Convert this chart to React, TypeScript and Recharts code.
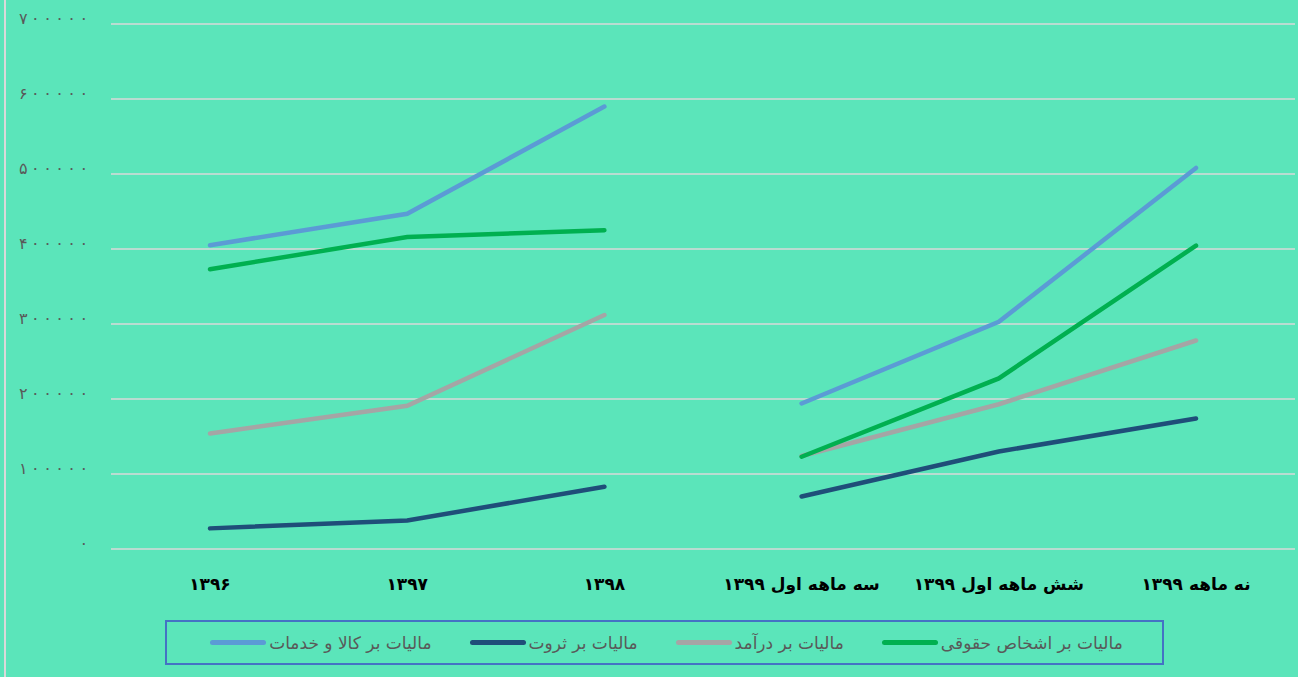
import { LineChart, Line, XAxis, YAxis, CartesianGrid } from 'recharts';

const categories = [
  '۱۳۹۶',
  '۱۳۹۷',
  '۱۳۹۸',
  'سه ماهه اول ۱۳۹۹',
  'شش ماهه اول ۱۳۹۹',
  'نه ماهه ۱۳۹۹',
];

// values; the first three are annual, the last three are 1399 partial periods
const goodsServices = [405000, 447000, 590000, 194000, 303000, 508000];
const wealth = [27500, 38000, 83000, 70000, 130000, 174000];
const income = [154000, 191000, 312000, 124000, 193000, 278000];
const legalPersons = [373000, 416000, 425000, 123000, 227500, 404500];

const yTicks = [0, 100000, 200000, 300000, 400000, 500000, 600000, 700000];

// annual points and 1399 points are drawn as two separate segments
const splitAt = 3;

const series = [
  { key: 'goods', name: 'مالیات بر کالا و خدمات', values: goodsServices, color: '#5b9bd5' },
  { key: 'wealth', name: 'مالیات بر ثروت', values: wealth, color: '#1f4e79' },
  { key: 'income', name: 'مالیات بر درآمد', values: income, color: '#a5a5a5' },
  { key: 'legal', name: 'مالیات بر اشخاص حقوقی', values: legalPersons, color: '#00b050' },
];

const data = categories.map((cat, i) => {
  const row: Record<string, string | number | null> = { name: cat };
  series.forEach(s => {
    row[s.key + '_a'] = i < splitAt ? s.values[i] : null;
    row[s.key + '_b'] = i >= splitAt ? s.values[i] : null;
  });
  return row;
});

const toPersian = (n: number) =>
  String(n).replace(/[0-9]/g, d => '۰۱۲۳۴۵۶۷۸۹'[Number(d)]);

const arabicFont = '"DejaVu Sans", sans-serif';
const bg = '#5be5ba';

function XTick({ x, y, payload }: any) {
  return (
    <text
      x={x}
      y={y + 33}
      textAnchor="middle"
      direction="rtl"
      fontFamily={arabicFont}
      fontWeight="bold"
      fontSize={17}
      fill="#000"
    >
      {payload.value}
    </text>
  );
}

// Excel spaces the digits widely, so each one gets a small gap
function YTick({ y, payload }: any) {
  const chars = toPersian(payload.value).split('');
  return (
    <text
      x={88}
      y={y}
      textAnchor="end"
      fontFamily={arabicFont}
      fontSize={16}
      fill="#595959"
    >
      {chars.map((c, i) => (
        <tspan key={i} dx={i === 0 ? 0 : 3.5}>
          {c}
        </tspan>
      ))}
    </text>
  );
}

export default function App() {
  return (
    <div
      style={{
        position: 'absolute',
        left: 0,
        top: 0,
        width: 1298,
        height: 677,
        background: bg,
        overflow: 'hidden',
      }}
    >
      <div
        style={{
          position: 'absolute',
          left: 4,
          top: 0,
          width: 2,
          height: 677,
          background: '#d9d9d9',
        }}
      />
      <LineChart
        width={1298}
        height={677}
        data={data}
        margin={{ top: 24, right: 3, left: 0, bottom: 0 }}
      >
        <CartesianGrid vertical={false} stroke="#d9d9d9" strokeWidth={1.5} />
        <XAxis
          dataKey="name"
          height={128}
          axisLine={false}
          tickLine={false}
          interval={0}
          padding={{ left: 99, right: 99 }}
          tick={<XTick />}
        />
        <YAxis
          width={111}
          domain={[0, 700000]}
          ticks={yTicks}
          axisLine={false}
          tickLine={false}
          tick={<YTick />}
        />
        {series.map(s => (
          <Line
            key={s.key + '_a'}
            dataKey={s.key + '_a'}
            name={s.name}
            stroke={s.color}
            strokeWidth={4.5}
            strokeLinecap="round"
            dot={false}
            activeDot={false}
            connectNulls={false}
            isAnimationActive={false}
          />
        ))}
        {series.map(s => (
          <Line
            key={s.key + '_b'}
            dataKey={s.key + '_b'}
            name={s.name}
            stroke={s.color}
            strokeWidth={4.5}
            strokeLinecap="round"
            dot={false}
            activeDot={false}
            connectNulls={false}
            legendType="none"
            isAnimationActive={false}
          />
        ))}
      </LineChart>
      <div
        style={{
          position: 'absolute',
          left: 165,
          top: 620,
          width: 999,
          height: 45,
          boxSizing: 'border-box',
          border: '2px solid #4472c4',
          display: 'flex',
          justifyContent: 'center',
          alignItems: 'center',
          gap: 38,
          paddingLeft: 4,
        }}
      >
        {series.map(s => (
          <div key={s.key} style={{ display: 'flex', alignItems: 'center', gap: 3 }}>
            <div
              style={{
                width: 56,
                height: 5,
                borderRadius: 3,
                background: s.color,
              }}
            />
            <span
              dir="rtl"
              style={{
                fontFamily: arabicFont,
                fontSize: 17,
                color: '#595959',
                whiteSpace: 'nowrap',
              }}
            >
              {s.name}
            </span>
          </div>
        ))}
      </div>
    </div>
  );
}
